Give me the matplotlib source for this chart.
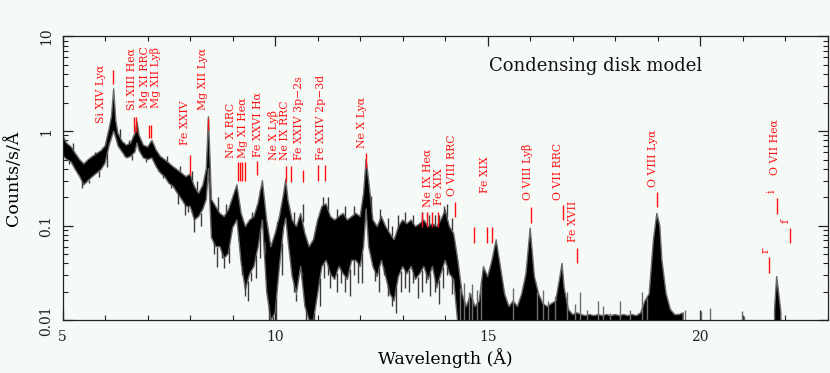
import numpy as np
import matplotlib
matplotlib.use("Agg")
import matplotlib.pyplot as plt
from matplotlib.ticker import FixedLocator, LogLocator, NullFormatter, FuncFormatter

plt.rcParams['font.family'] = ['DejaVu Serif', 'DejaVu Sans']
nan = np.nan

# ---------------- spectrum: wavelength [Å], lower / upper envelope [counts/s/Å]
wavelength = [5.0, 5.1, 5.2, 5.3, 5.4, 5.5, 5.6, 5.7, 5.8, 5.9, 6.0, 6.1, 6.15, 6.2, 6.25, 6.3, 6.4, 6.5,
              6.6, 6.7, 6.75, 6.8, 6.9, 7.0, 7.1, 7.2, 7.3, 7.4, 7.5, 7.6, 7.7, 7.8, 7.9, 8.0, 8.1, 8.2,
              8.3, 8.38, 8.43, 8.48, 8.5, 8.6, 8.7, 8.8, 8.9, 9.0, 9.1, 9.2, 9.3, 9.4, 9.5, 9.6, 9.7,
              9.8, 9.9, 10.0, 10.1, 10.2, 10.25, 10.3, 10.4, 10.5, 10.6, 10.7, 10.8, 10.9, 11.0, 11.1,
              11.2, 11.3, 11.4, 11.5, 11.6, 11.7, 11.8, 11.9, 12.0, 12.08, 12.14, 12.2, 12.3, 12.4,
              12.5, 12.6, 12.7, 12.8, 12.9, 13.0, 13.1, 13.2, 13.3, 13.4, 13.5, 13.6, 13.7, 13.8, 13.9,
              14.0, 14.1, 14.2, 14.3, 14.4, 14.5, 14.6, 14.7, 14.8, 14.9, 15.0, 15.1, 15.2, 15.3, 15.4,
              15.5, 15.6, 15.7, 15.8, 15.9, 16.0, 16.1, 16.2, 16.3, 16.4, 16.5, 16.6, 16.7, 16.75,
              16.8, 16.9, 17.0, 17.1, 17.2, 17.3, 17.4, 17.5, 17.6, 17.7, 17.8, 17.9, 18.0, 18.1, 18.2,
              18.3, 18.4, 18.5, 18.6, 18.7, 18.8, 18.9, 18.98, 19.05, 19.1, 19.2, 19.3, 19.4, 19.5,
              19.6, 19.7, 21.7, 21.75, 21.8, 21.85, 21.9, 22.0]
flux_lo = [0.55, 0.50, 0.47, 0.39, 0.33, 0.27, 0.30, 0.33, 0.36, 0.39, 0.46, 0.72, 0.85, 1.0, 0.85, 0.70,
           0.60, 0.52, 0.54, 0.60, 0.75, 0.62, 0.52, 0.50, 0.52, 0.42, 0.36, 0.33, 0.28, 0.26, 0.22,
           0.19, 0.16, 0.16, 0.115, 0.125, 0.15, 0.19, 0.40, 0.12, 0.075, 0.060, 0.060, 0.045, 0.051,
           0.095, 0.115, 0.040, 0.021, 0.031, 0.037, 0.060, 0.115, 0.020, 0.010, 0.012, 0.037, 0.095,
           0.12, 0.071, 0.029, 0.019, 0.037, 0.014, 0.010, 0.010, 0.019, 0.037, 0.043, 0.031, 0.027,
           0.037, 0.031, 0.027, 0.043, 0.043, 0.037, 0.06, 0.15, 0.060, 0.037, 0.029, 0.043, 0.029,
           0.019, 0.016, 0.029, 0.037, 0.031, 0.037, 0.027, 0.031, 0.037, 0.027, 0.037, 0.022, 0.031,
           0.043, 0.031, 0.027, 0.009, 0.009, 0.009, 0.009, 0.009, 0.009, 0.009, 0.009, 0.009, 0.009,
           0.009, 0.009, 0.009, 0.009, 0.009, 0.009, 0.009, 0.009, 0.009, 0.009, 0.009, 0.009, 0.009,
           0.009, 0.009, 0.009, 0.009, 0.009, 0.009, 0.009, 0.009, 0.009, 0.009, 0.009, 0.009, 0.009,
           0.009, 0.009, 0.009, 0.009, 0.009, 0.009, 0.009, 0.009, 0.009, 0.009, 0.009, 0.009, 0.009,
           0.009, 0.009, 0.009, 0.009, 0.009, 0.009, 0.009, nan, nan, 0.009, 0.009, 0.009, 0.009, nan]
flux_hi = [0.90, 0.74, 0.68, 0.58, 0.50, 0.45, 0.50, 0.54, 0.58, 0.62, 0.70, 1.10, 1.45, 2.8, 1.30, 0.95,
           0.78, 0.71, 0.75, 0.95, 1.25, 0.90, 0.71, 0.68, 0.80, 0.63, 0.54, 0.50, 0.46, 0.42, 0.39,
           0.36, 0.33, 0.35, 0.26, 0.22, 0.27, 0.40, 1.42, 0.35, 0.19, 0.16, 0.135, 0.125, 0.147,
           0.20, 0.27, 0.135, 0.098, 0.115, 0.125, 0.175, 0.30, 0.115, 0.060, 0.083, 0.125, 0.22,
           0.31, 0.19, 0.115, 0.098, 0.135, 0.083, 0.060, 0.071, 0.115, 0.16, 0.17, 0.125, 0.115,
           0.125, 0.135, 0.115, 0.125, 0.135, 0.125, 0.22, 0.50, 0.30, 0.115, 0.098, 0.125, 0.098,
           0.083, 0.071, 0.098, 0.115, 0.105, 0.115, 0.098, 0.105, 0.115, 0.098, 0.105, 0.098, 0.115,
           0.147, 0.098, 0.083, 0.043, 0.019, 0.014, 0.019, 0.014, 0.016, 0.037, 0.029, 0.043, 0.071,
           0.037, 0.019, 0.014, 0.016, 0.014, 0.019, 0.031, 0.094, 0.029, 0.019, 0.015, 0.014, 0.015,
           0.016, 0.029, 0.040, 0.022, 0.013, 0.0115, 0.012, 0.0115, 0.0112, 0.0115, 0.0112, 0.0115,
           0.0112, 0.0115, 0.0112, 0.0115, 0.0112, 0.0115, 0.0112, 0.0115, 0.0112, 0.012, 0.016,
           0.019, 0.071, 0.135, 0.10, 0.043, 0.019, 0.013, 0.0115, 0.0115, 0.012, nan, nan, 0.013,
           0.029, 0.019, 0.012, nan]

# narrow noise spikes below / above the band
dip_wl = [5.15, 5.35, 5.45, 5.62, 5.85, 6.05, 6.45, 6.62, 6.95, 7.25, 7.35, 7.55, 7.72, 7.87, 7.95,
          8.09, 8.25, 8.55, 8.63, 8.75, 8.8, 8.92, 9.15, 9.22, 9.28, 9.35, 9.42, 9.55, 9.65, 9.75,
          9.85, 9.95, 10.02, 10.15, 10.35, 10.45, 10.5, 10.62, 10.73, 10.82, 10.92, 11.05, 11.15,
          11.25, 11.3, 11.45, 11.55, 11.65, 11.75, 11.85, 11.95, 12.05, 12.35, 12.45, 12.55,
          12.65, 12.75, 12.85, 12.95, 13.05, 13.15, 13.25, 13.35, 13.45, 13.55, 13.65, 13.77,
          13.85, 13.95, 14.05, 14.15, 14.25]
dip_val = [0.45, 0.36, 0.25, 0.28, 0.33, 0.42, 0.55, 0.50, 0.47, 0.38, 0.32, 0.25, 0.17, 0.13, 0.14,
           0.086, 0.10, 0.05, 0.037, 0.045, 0.036, 0.04, 0.07, 0.03, 0.018, 0.016, 0.026, 0.028,
           0.045, 0.05, 0.01, 0.01, 0.01, 0.03, 0.05, 0.02, 0.016, 0.028, 0.01, 0.01, 0.01, 0.014,
           0.028, 0.03, 0.022, 0.02, 0.025, 0.02, 0.018, 0.03, 0.025, 0.025, 0.026, 0.02, 0.03,
           0.018, 0.014, 0.012, 0.02, 0.022, 0.02, 0.025, 0.017, 0.02, 0.025, 0.018, 0.02, 0.015,
           0.022, 0.03, 0.019, 0.018]
jump_wl = [5.25, 5.75, 6.35, 6.55, 7.05, 7.45, 7.75, 8.05, 8.15, 8.65, 8.85, 9.05, 9.45, 9.65,
           10.05, 10.15, 10.45, 10.65, 10.95, 11.12, 11.25, 11.45, 11.65, 11.85, 12.25, 12.47,
           12.65, 12.75, 12.9, 13.05, 13.25, 13.45, 13.62, 13.75, 13.85, 13.97, 14.05, 14.15]
jump_val = [0.75, 0.60, 1.05, 0.80, 0.75, 0.55, 0.43, 0.38, 0.30, 0.20, 0.17, 0.24, 0.14, 0.22,
            0.11, 0.17, 0.14, 0.17, 0.10, 0.20, 0.20, 0.15, 0.16, 0.16, 0.15, 0.15, 0.12, 0.10,
            0.13, 0.14, 0.13, 0.14, 0.13, 0.13, 0.13, 0.16, 0.17, 0.12]
floor_wl = [14.35, 14.45, 14.55, 14.62, 14.75, 14.85, 15.6, 16.15, 16.31, 16.43, 16.58, 16.86,
            17.05, 17.17, 17.33, 17.6, 17.72, 17.88, 18.11, 18.35, 18.62, 18.74, 19.64, 20.03,
            20.23, 20.98, 21.03]
floor_val = [0.022, 0.025, 0.02, 0.024, 0.021, 0.026, 0.022, 0.02, 0.021, 0.016, 0.018, 0.02,
             0.015, 0.02, 0.013, 0.016, 0.014, 0.012, 0.016, 0.013, 0.02, 0.017, 0.013, 0.0125,
             0.0135, 0.0125, 0.011]

# ---------------- line identifications
line_labels = ["Si XIV Lyα", "Si XIII Heα", "Mg XI RRC", "Mg XII Lyβ", "Fe XXIV", "Mg XII Lyα",
               "Ne X RRC", "Mg XI Heα", "Fe XXVI Hα", "Ne X Lyβ", "Ne IX RRC", "Fe XXIV 3p−2s",
               "Fe XXIV 2p−3d", "Ne X Lyα", "Ne IX Heα", "Fe XIX", "O VIII RRC", "Fe XIX",
               "O VIII Lyβ", "O VII RRC", "Fe XVII", "O VIII Lyα", "r", "i", "f", "O VII Heα"]
line_wl = [[6.18], [6.68, 6.73], [7.04], [7.09], [7.99], [8.42], [9.13], [9.18, 9.23, 9.29],
           [9.57], [10.25], [10.37], [10.65], [11.01, 11.17], [12.14], [13.45, 13.57, 13.70],
           [13.82], [14.24], [14.69, 14.99, 15.10], [16.01], [16.77], [17.11], [18.98], [21.62],
           [21.81], [22.12], []]
mark_top = [4.4, 1.41, 1.16, 1.16, 0.56, 1.37, 0.47, 0.47, 0.48, 0.43, 0.43, 0.39, 0.44, 0.59,
            0.14, 0.14, 0.178, 0.097, 0.158, 0.166, 0.058, 0.227, 0.047, 0.196, 0.095, nan]
mark_bottom = [3.15, 0.98, 0.845, 0.845, 0.343, 1.03, 0.30, 0.30, 0.343, 0.29, 0.29, 0.29, 0.30,
               0.41, 0.097, 0.097, 0.124, 0.066, 0.107, 0.115, 0.040, 0.158, 0.032, 0.133, 0.066, nan]
text_x = [5.90, 6.62, 6.93, 7.19, 7.88, 8.30, 8.97, 9.25, 9.60, 9.95, 10.22, 10.55, 11.07, 12.04,
          13.58, 13.86, 14.16, 14.94, 15.93, 16.65, 17.01, 18.89, 21.53, 21.67, 22.02, 21.76]
text_y = [1.22, 1.67, 1.75, 1.75, 0.71, 1.67, 0.52, 0.52, 0.53, 0.50, 0.50, 0.50, 0.50, 0.66,
          0.158, 0.166, 0.206, 0.222, 0.187, 0.187, 0.067, 0.257, 0.051, 0.222, 0.107, 0.343]

x_major = [5, 10, 15, 20]
y_major = [0.01, 0.1, 1, 10]

# ---------------- figure
bg = '#f6faf7'
fig = plt.figure(figsize=(8.30, 3.73), dpi=100, facecolor=bg)
ax = fig.add_axes([0.0755, 0.1413, 0.9217, 0.7609], facecolor=bg)
ax.set_yscale('log')
ax.set_xlim(5, 23)
ax.set_ylim(0.01, 10)

wl = np.array(wavelength)
lo = np.array(flux_lo)
hi = np.array(flux_hi)
ax.fill_between(wl, lo, hi, facecolor='black', edgecolor='#6a6a6a', linewidth=1.0, zorder=2)
ax.vlines(dip_wl, dip_val, np.interp(dip_wl, wl, lo), color='#3c3c3c', linewidth=1.0, zorder=2)
ax.vlines(jump_wl, np.interp(jump_wl, wl, hi), jump_val, color='#3c3c3c', linewidth=1.0, zorder=2)
ax.vlines(floor_wl, 0.009, floor_val, color='#6e6e6e', linewidth=1.0, zorder=2)

red = '#ff1010'
for lab, wls, top, bot, tx, ty in zip(line_labels, line_wl, mark_top, mark_bottom, text_x, text_y):
    if wls:
        ax.vlines(wls, bot, top, color=red, linewidth=1.0, zorder=3)
    ax.text(tx, ty, lab, rotation=90, ha='center', va='bottom', color=red,
            fontsize=7.8, zorder=4)

ax.text(0.557, 0.896, 'Condensing disk model', transform=ax.transAxes, ha='left', va='center',
        fontsize=13, color='#111111')

# axes styling
ax.xaxis.set_major_locator(FixedLocator(x_major))
ax.xaxis.set_minor_locator(FixedLocator(np.arange(5, 24, 1)))
ax.yaxis.set_major_locator(FixedLocator(y_major))
ax.yaxis.set_minor_locator(LogLocator(base=10, subs=np.arange(2, 10)))
ax.yaxis.set_minor_formatter(NullFormatter())
ax.yaxis.set_major_formatter(FuncFormatter(lambda v, p: {0.01: '0.01', 0.1: '0.1', 1: '1', 10: '10'}.get(round(v, 3), '')))
ax.xaxis.set_major_formatter(FuncFormatter(lambda v, p: '%d' % v))
ax.tick_params(which='both', direction='in', top=True, right=True, colors='#222222',
               labelsize=10, pad=7)
ax.tick_params(which='major', length=7, width=0.9)
ax.tick_params(which='minor', length=3.5, width=0.8)
for lbl in ax.get_yticklabels():
    lbl.set_rotation(90)
    lbl.set_va('center')
for s in ax.spines.values():
    s.set_color('#222222')
    s.set_linewidth(0.9)

ax.set_xlabel('Wavelength (Å)', fontsize=12.5)
ax.set_ylabel('Counts/s/Å', fontsize=12.5)
ax.xaxis.set_label_coords(0.5, -0.133)
ax.yaxis.set_label_coords(-0.065, 0.5)
ax.xaxis.label.set_va('center')
ax.yaxis.label.set_va('center')

fig.savefig('out.png', dpi=100, facecolor=bg)
